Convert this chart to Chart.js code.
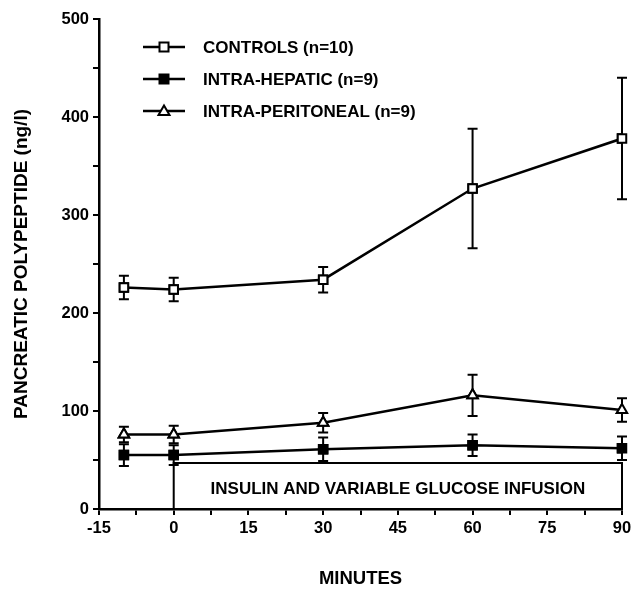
<!DOCTYPE html>
<html>
<head>
<meta charset="utf-8">
<script src="https://cdn.jsdelivr.net/npm/chart.js@4"></script>
<style>
  html, body { margin: 0; padding: 0; background: #fff; }
  #wrap { width: 631px; height: 590px; position: relative; }
</style>
</head>
<body>
<div id="wrap"><canvas id="pp-chart"></canvas></div>
<script>
// ─── Data ────────────────────────────────────────────────────────────
const minutes = [-10, 0, 30, 60, 90];

const controlsMean = [226, 224, 234, 327, 378];
const controlsErr  = [12, 12, 13, 61, 62];

const hepaticMean = [55, 55, 61, 65, 62];
const hepaticErr  = [11, 10, 12, 11, 12];

const peritonealMean = [76, 76, 88, 116, 101];
const peritonealErr  = [8, 9, 10, 21, 12];

const seriesLabels = ['CONTROLS (n=10)', 'INTRA-HEPATIC (n=9)', 'INTRA-PERITONEAL (n=9)'];

// infusion bar: from 0 to 90 min, drawn up to this level
const infusionStart = 0;
const infusionEnd = 90;
const infusionLevel = 47;
const infusionText = 'INSULIN AND VARIABLE GLUCOSE INFUSION';

const FONT = '"Liberation Sans", Arial, Helvetica, sans-serif';

function toPoints(means) {
    return minutes.map((m, i) => ({ x: m, y: means[i] }));
}

// ─── Plugins ─────────────────────────────────────────────────────────
const infusionBox = {
    id: 'infusionBox',
    beforeDatasetsDraw(chart) {
        const { ctx, scales: { x, y } } = chart;
        const x0 = x.getPixelForValue(infusionStart);
        const x1 = x.getPixelForValue(infusionEnd);
        const yTop = y.getPixelForValue(infusionLevel);
        const yBot = y.getPixelForValue(0);
        ctx.save();
        ctx.strokeStyle = '#000';
        ctx.lineWidth = 2;
        ctx.beginPath();
        ctx.moveTo(x0, yBot);
        ctx.lineTo(x0, yTop);
        ctx.lineTo(x1, yTop);
        ctx.lineTo(x1, yBot);
        ctx.stroke();
        ctx.fillStyle = '#000';
        ctx.font = 'bold 17px ' + FONT;
        ctx.textAlign = 'center';
        ctx.textBaseline = 'middle';
        ctx.fillText(infusionText, (x0 + x1) / 2, (yTop + yBot) / 2 + 3);
        ctx.restore();
    }
};

const errorBars = {
    id: 'errorBars',
    afterDatasetsDraw(chart) {
        const { ctx, scales: { y } } = chart;
        ctx.save();
        ctx.strokeStyle = '#000';
        ctx.lineWidth = 2;
        chart.data.datasets.forEach((ds, di) => {
            const meta = chart.getDatasetMeta(di);
            meta.data.forEach((pt, i) => {
                const v = ds.data[i].y;
                const e = ds.errors[i];
                const yHi = y.getPixelForValue(v + e);
                const yLo = y.getPixelForValue(v - e);
                ctx.beginPath();
                ctx.moveTo(pt.x, yHi);
                ctx.lineTo(pt.x, yLo);
                ctx.moveTo(pt.x - 5, yHi);
                ctx.lineTo(pt.x + 5, yHi);
                ctx.moveTo(pt.x - 5, yLo);
                ctx.lineTo(pt.x + 5, yLo);
                ctx.stroke();
            });
            // redraw the marker on top of the bar
            meta.data.forEach(pt => pt.draw(ctx, chart.chartArea));
        });
        ctx.restore();
    }
};

const insideLegend = {
    id: 'insideLegend',
    afterDraw(chart) {
        const { ctx } = chart;
        const rows = [47, 79, 111];
        ctx.save();
        ctx.font = 'bold 17px ' + FONT;
        ctx.textBaseline = 'middle';
        chart.data.datasets.forEach((ds, i) => {
            const yy = rows[i];
            ctx.strokeStyle = '#000';
            ctx.lineWidth = 2.5;
            ctx.beginPath();
            ctx.moveTo(143, yy);
            ctx.lineTo(185, yy);
            ctx.stroke();
            ctx.lineWidth = 2;
            ctx.fillStyle = ds.pointBackgroundColor;
            ctx.beginPath();
            if (ds.pointStyle === 'triangle') {
                ctx.moveTo(164, yy - 5.5);
                ctx.lineTo(169.5, yy + 4);
                ctx.lineTo(158.5, yy + 4);
                ctx.closePath();
            } else {
                ctx.rect(159.5, yy - 4.5, 9, 9);
            }
            ctx.fill();
            ctx.stroke();
            ctx.fillStyle = '#000';
            ctx.fillText(ds.label, 203, yy + 1);
        });
        ctx.restore();
    }
};

// ─── Chart ───────────────────────────────────────────────────────────
function lineSet(label, means, errs, style, fill) {
    return {
        label: label,
        data: toPoints(means),
        errors: errs,
        borderColor: '#000',
        borderWidth: 2.5,
        pointStyle: style,
        pointRadius: 6,
        pointBorderWidth: 2,
        pointBorderColor: '#000',
        pointBackgroundColor: fill,
        tension: 0
    };
}

new Chart(document.getElementById('pp-chart'), {
    type: 'line',
    data: {
        datasets: [
            lineSet(seriesLabels[0], controlsMean, controlsErr, 'rect', '#fff'),
            lineSet(seriesLabels[1], hepaticMean, hepaticErr, 'rect', '#000'),
            lineSet(seriesLabels[2], peritonealMean, peritonealErr, 'triangle', '#fff')
        ]
    },
    options: {
        responsive: true,
        maintainAspectRatio: false,
        animation: false,
        layout: { padding: { left: 0, right: 9, top: 19, bottom: 0 } },
        plugins: {
            legend: { display: false },
            tooltip: { enabled: false }
        },
        scales: {
            x: {
                type: 'linear',
                min: -15,
                max: 90,
                afterFit: s => { s.height = 81; s.paddingLeft = 0; s.paddingRight = 0; },
                border: { display: true, color: '#000', width: 2.5 },
                grid: { drawOnChartArea: false, drawTicks: true, tickLength: 6, color: '#000', lineWidth: 2 },
                ticks: {
                    stepSize: 7.5,
                    autoSkip: false,
                    maxRotation: 0,
                    padding: 4,
                    color: '#000',
                    font: { family: FONT, size: 16.5, weight: 'bold' },
                    callback: v => (v % 15 === 0 ? v : '')
                },
                title: {
                    display: true,
                    text: 'MINUTES',
                    color: '#000',
                    font: { family: FONT, size: 18.5, weight: 'bold' },
                    padding: { top: 0, bottom: 0 }
                }
            },
            y: {
                min: 0,
                max: 500,
                afterFit: s => { s.width = 99; s.paddingTop = 0; s.paddingBottom = 0; },
                border: { display: true, color: '#000', width: 2.5 },
                grid: { drawOnChartArea: false, drawTicks: true, tickLength: 6, color: '#000', lineWidth: 2 },
                ticks: {
                    stepSize: 50,
                    autoSkip: false,
                    padding: 4,
                    color: '#000',
                    font: { family: FONT, size: 16.5, weight: 'bold' },
                    callback: v => (v % 100 === 0 ? v : '')
                },
                title: {
                    display: true,
                    text: 'PANCREATIC POLYPEPTIDE (ng/l)',
                    color: '#000',
                    font: { family: FONT, size: 19, weight: 'bold' },
                    padding: { top: 10, bottom: 0 }
                }
            }
        }
    },
    plugins: [infusionBox, errorBars, insideLegend]
});
</script>
</body>
</html>
